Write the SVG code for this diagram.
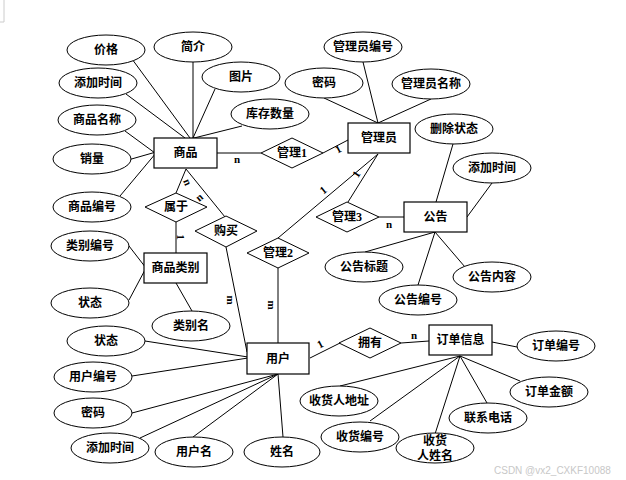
<svg xmlns="http://www.w3.org/2000/svg" width="626" height="480" viewBox="0 0 626 480">
<style>
.e{fill:#fff;stroke:#000;stroke-width:1}
.r{fill:#fff;stroke:#000;stroke-width:1.2}
.d{fill:#fff;stroke:#000;stroke-width:1}
.l{stroke:#000;stroke-width:1;fill:none}
text{font-family:"Liberation Serif","Noto Sans CJK SC",serif;font-size:12px;font-weight:bold;text-anchor:middle;dominant-baseline:central;fill:#000}
.c{font-size:11px}
.w{font-family:"Liberation Sans","Noto Sans CJK SC",sans-serif;font-size:10px;font-weight:normal;fill:#c8c8c8;text-anchor:start}
</style>
<rect width="626" height="480" fill="#fff"/>
<line x1="4" y1="0" x2="4" y2="22" stroke="#ccc" stroke-width="1"/>
<line x1="0" y1="22" x2="4" y2="22" stroke="#ccc" stroke-width="1"/>
<g id="connectors">
<line class="l" x1="132" y1="59" x2="190" y2="138"/>
<line class="l" x1="126" y1="94" x2="185" y2="138"/>
<line class="l" x1="193" y1="62" x2="193" y2="138"/>
<line class="l" x1="215" y1="89" x2="193" y2="138"/>
<line class="l" x1="242" y1="126" x2="194" y2="138"/>
<line class="l" x1="125" y1="131" x2="155" y2="153"/>
<line class="l" x1="128" y1="160" x2="156" y2="152"/>
<line class="l" x1="120" y1="196" x2="156" y2="153"/>
<line class="l" x1="217" y1="153" x2="261" y2="153"/>
<line class="l" x1="323" y1="153" x2="348" y2="140"/>
<line class="l" x1="378" y1="154" x2="348" y2="202"/>
<line class="l" x1="378" y1="154" x2="278" y2="238"/>
<line class="l" x1="379" y1="217" x2="404" y2="217"/>
<line class="l" x1="363" y1="62" x2="378" y2="123"/>
<line class="l" x1="324" y1="98" x2="378" y2="123"/>
<line class="l" x1="431" y1="99" x2="378" y2="123"/>
<line class="l" x1="453" y1="144" x2="436" y2="202"/>
<line class="l" x1="492" y1="183" x2="467" y2="217"/>
<line class="l" x1="435" y1="232" x2="365" y2="252"/>
<line class="l" x1="435" y1="232" x2="418" y2="285"/>
<line class="l" x1="435" y1="232" x2="465" y2="267"/>
<line class="l" x1="186" y1="169" x2="176" y2="193"/>
<line class="l" x1="186" y1="169" x2="225" y2="217"/>
<line class="l" x1="176" y1="222" x2="176" y2="253"/>
<line class="l" x1="129" y1="246" x2="146" y2="268"/>
<line class="l" x1="129" y1="300" x2="146" y2="268"/>
<line class="l" x1="176" y1="283" x2="192" y2="311"/>
<line class="l" x1="226" y1="247" x2="247" y2="352"/>
<line class="l" x1="278" y1="268" x2="278" y2="343"/>
<line class="l" x1="145" y1="341" x2="248" y2="357"/>
<line class="l" x1="132" y1="376" x2="248" y2="358"/>
<line class="l" x1="132" y1="413" x2="278" y2="374"/>
<line class="l" x1="140" y1="438" x2="278" y2="374"/>
<line class="l" x1="193" y1="437" x2="278" y2="374"/>
<line class="l" x1="278" y1="374" x2="283" y2="437"/>
<line class="l" x1="310" y1="358" x2="340" y2="343"/>
<line class="l" x1="401" y1="343" x2="429" y2="341"/>
<line class="l" x1="492" y1="342" x2="517" y2="347"/>
<line class="l" x1="460" y1="356" x2="340" y2="386"/>
<line class="l" x1="460" y1="356" x2="370" y2="421"/>
<line class="l" x1="460" y1="356" x2="435" y2="434"/>
<line class="l" x1="460" y1="356" x2="487" y2="403"/>
<line class="l" x1="460" y1="356" x2="520" y2="381"/>
<text class="c" x="237" y="159">n</text>
<text class="c" x="338" y="149" transform="rotate(-28 338 149)">1</text>
<text class="c" x="356" y="174" transform="rotate(-58 356 174)">1</text>
<text class="c" x="323" y="190" transform="rotate(-40 323 190)">1</text>
<text class="c" x="389" y="224">n</text>
<text class="c" x="188" y="182" transform="rotate(67 188 182)">n</text>
<text class="c" x="199" y="197" transform="rotate(-40 199 197)">n</text>
<text class="c" x="181" y="237" transform="rotate(90 181 237)">1</text>
<text class="c" x="231" y="300" transform="rotate(90 231 300)">m</text>
<text class="c" x="272" y="305" transform="rotate(90 272 305)">m</text>
<text class="c" x="320" y="344" transform="rotate(-28 320 344)">1</text>
<text class="c" x="414" y="335">n</text>
</g>
<g id="n-shangpin"><rect class="r" x="154" y="138" width="63" height="30"/><text x="185.5" y="153">商品</text></g>
<g id="n-guanliyuan"><rect class="r" x="348" y="123" width="62" height="30"/><text x="379" y="138">管理员</text></g>
<g id="n-gonggao"><rect class="r" x="404" y="202" width="63" height="30"/><text x="435.5" y="217">公告</text></g>
<g id="n-leibie"><rect class="r" x="144" y="253" width="63" height="30"/><text x="175.5" y="268">商品类别</text></g>
<g id="n-yonghu"><rect class="r" x="247" y="343" width="62" height="31"/><text x="278" y="358.5">用户</text></g>
<g id="n-dingdan"><rect class="r" x="429" y="325" width="63" height="30"/><text x="460.5" y="340">订单信息</text></g>
<g id="r-guanli1"><polygon class="d" points="261,153 292,138 323,153 292,168"/><text x="292" y="153">管理1</text></g>
<g id="r-shuyu"><polygon class="d" points="145,207 176,193 207,207 176,222"/><text x="176" y="207">属于</text></g>
<g id="r-goumai"><polygon class="d" points="195,231 226,216 257,231 226,247"/><text x="226" y="231">购买</text></g>
<g id="r-guanli2"><polygon class="d" points="247,253 278,238 309,253 278,268"/><text x="278" y="253">管理2</text></g>
<g id="r-guanli3"><polygon class="d" points="316,217 347,202 379,217 347,232"/><text x="347" y="217">管理3</text></g>
<g id="r-yongyou"><polygon class="d" points="339,343 370,328 401,343 370,358"/><text x="370" y="343">拥有</text></g>
<g id="a-jiage"><ellipse class="e" cx="106" cy="50" rx="39" ry="15"/><text x="106" y="50">价格</text></g>
<g id="a-jianjie"><ellipse class="e" cx="193" cy="47" rx="39" ry="15"/><text x="193" y="47">简介</text></g>
<g id="a-tupian"><ellipse class="e" cx="241" cy="77" rx="39" ry="15"/><text x="241" y="77">图片</text></g>
<g id="a-kucun"><ellipse class="e" cx="270" cy="114" rx="39" ry="15"/><text x="270" y="114">库存数量</text></g>
<g id="a-tianjia1"><ellipse class="e" cx="98" cy="83" rx="39" ry="15"/><text x="98" y="83">添加时间</text></g>
<g id="a-spmc"><ellipse class="e" cx="97" cy="120" rx="39" ry="15"/><text x="97" y="120">商品名称</text></g>
<g id="a-xiaoliang"><ellipse class="e" cx="92" cy="159" rx="39" ry="15"/><text x="92" y="159">销量</text></g>
<g id="a-spbh"><ellipse class="e" cx="92" cy="207" rx="39" ry="15"/><text x="92" y="207">商品编号</text></g>
<g id="a-glybh"><ellipse class="e" cx="363" cy="47" rx="39" ry="15"/><text x="363" y="47">管理员编号</text></g>
<g id="a-mima1"><ellipse class="e" cx="324" cy="83" rx="39" ry="15"/><text x="324" y="83">密码</text></g>
<g id="a-glymc"><ellipse class="e" cx="431" cy="84" rx="39" ry="15"/><text x="431" y="84">管理员名称</text></g>
<g id="a-sczt"><ellipse class="e" cx="454" cy="129" rx="39" ry="15"/><text x="454" y="129">删除状态</text></g>
<g id="a-tianjia2"><ellipse class="e" cx="492" cy="168" rx="39" ry="15"/><text x="492" y="168">添加时间</text></g>
<g id="a-ggbt"><ellipse class="e" cx="364" cy="267" rx="39" ry="15"/><text x="364" y="267">公告标题</text></g>
<g id="a-ggnr"><ellipse class="e" cx="492" cy="277" rx="39" ry="15"/><text x="492" y="277">公告内容</text></g>
<g id="a-ggbh"><ellipse class="e" cx="418" cy="300" rx="39" ry="15"/><text x="418" y="300">公告编号</text></g>
<g id="a-lbbh"><ellipse class="e" cx="90" cy="246" rx="39" ry="15"/><text x="90" y="246">类别编号</text></g>
<g id="a-zt1"><ellipse class="e" cx="90" cy="303" rx="39" ry="15"/><text x="90" y="303">状态</text></g>
<g id="a-lbm"><ellipse class="e" cx="191" cy="326" rx="39" ry="15"/><text x="191" y="326">类别名</text></g>
<g id="a-zt2"><ellipse class="e" cx="106" cy="341" rx="39" ry="15"/><text x="106" y="341">状态</text></g>
<g id="a-yhbh"><ellipse class="e" cx="93" cy="377" rx="39" ry="15"/><text x="93" y="377">用户编号</text></g>
<g id="a-mima2"><ellipse class="e" cx="93" cy="413" rx="39" ry="15"/><text x="93" y="413">密码</text></g>
<g id="a-tianjia3"><ellipse class="e" cx="110" cy="448" rx="39" ry="15"/><text x="110" y="448">添加时间</text></g>
<g id="a-yhm"><ellipse class="e" cx="194" cy="452" rx="39" ry="15"/><text x="194" y="452">用户名</text></g>
<g id="a-xm"><ellipse class="e" cx="282" cy="452" rx="38" ry="15"/><text x="282" y="452">姓名</text></g>
<g id="a-ddbh"><ellipse class="e" cx="556" cy="346" rx="39" ry="15"/><text x="556" y="346">订单编号</text></g>
<g id="a-ddje"><ellipse class="e" cx="549" cy="392" rx="39" ry="15"/><text x="549" y="392">订单金额</text></g>
<g id="a-lxdh"><ellipse class="e" cx="488" cy="418" rx="39" ry="15"/><text x="488" y="418">联系电话</text></g>
<g id="a-shrxm"><ellipse class="e" cx="435" cy="448" rx="39" ry="15"/><text x="435" y="441">收货</text><text x="435" y="456">人姓名</text></g>
<g id="a-shbh"><ellipse class="e" cx="360" cy="437" rx="39" ry="15"/><text x="360" y="437">收货编号</text></g>
<g id="a-shrdz"><ellipse class="e" cx="339" cy="401" rx="39" ry="15"/><text x="339" y="401">收货人地址</text></g>
<text class="w" x="494" y="470">CSDN @vx2_CXKF10088</text>
</svg>
